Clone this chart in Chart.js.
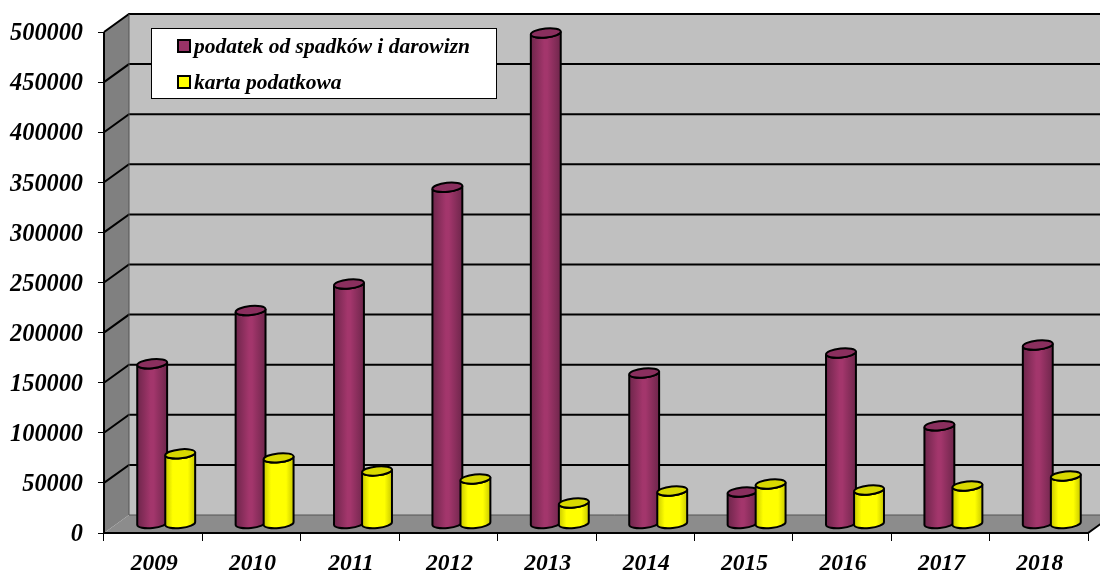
<!DOCTYPE html>
<html>
<head>
<meta charset="utf-8">
<style>
html, body { margin: 0; padding: 0; background: #fff; }
canvas { display: block; }
</style>
<script src="https://cdn.jsdelivr.net/npm/chart.js@4"></script>
</head>
<body>
<canvas id="taxchart" width="1100" height="572"></canvas>
<script>
var years = ['2009', '2010', '2011', '2012', '2013', '2014', '2015', '2016', '2017', '2018'];
var inheritanceTax = [160000, 213000, 239500, 336000, 490000, 150700, 32000, 170700, 98000, 178600];
var flatTax = [70000, 66000, 53000, 45000, 21000, 33000, 40000, 34000, 38000, 48000];
var inheritanceLabel = 'podatek od spadków i darowizn';
var flatLabel = 'karta podatkowa';

var depthX = 25, depthY = 18;
var fontFamily = '"Liberation Serif", serif';

// back wall, side wall, floor and the grid, all in 3D offset from the axes
var wallsPlugin = {
    id: 'walls',
    beforeDatasetsDraw: function(chart) {
        var c = chart.ctx, a = chart.chartArea, y = chart.scales.y;
        c.save();
        c.fillStyle = '#c0c0c0';
        c.fillRect(a.left + depthX, a.top - depthY, 1100, a.bottom - a.top);

        c.fillStyle = '#808080';
        c.beginPath();
        c.moveTo(a.left, a.top);
        c.lineTo(a.left + depthX, a.top - depthY);
        c.lineTo(a.left + depthX, a.bottom - depthY);
        c.lineTo(a.left, a.bottom);
        c.closePath();
        c.fill();

        c.fillStyle = '#8c8c8c';
        c.beginPath();
        c.moveTo(a.left, a.bottom);
        c.lineTo(a.left + depthX, a.bottom - depthY);
        c.lineTo(a.right + depthX, a.bottom - depthY);
        c.lineTo(a.right, a.bottom);
        c.closePath();
        c.fill();

        c.strokeStyle = '#000';
        c.lineWidth = 2;
        y.ticks.forEach(function(t) {
            if (t.value === 0) return;
            var py = y.getPixelForValue(t.value);
            c.beginPath();
            c.moveTo(a.left, py);
            c.lineTo(a.left + depthX, py - depthY);
            c.lineTo(1100, py - depthY);
            c.stroke();
        });
        c.lineWidth = 1;
        c.strokeStyle = '#555';
        c.beginPath();
        c.moveTo(a.left + depthX, a.top - depthY);
        c.lineTo(a.left + depthX, a.bottom - depthY);
        c.lineTo(1100, a.bottom - depthY);
        c.stroke();

        // front edge of the floor
        c.strokeStyle = '#000';
        c.lineWidth = 2;
        c.beginPath();
        c.moveTo(a.left, a.top);
        c.lineTo(a.left, a.bottom);
        c.lineTo(a.right, a.bottom);
        c.lineTo(a.right + depthX, a.bottom - depthY);
        c.stroke();
        c.restore();
    }
};

function cylinder(c, bar, dark, mid, top, edge) {
    var halfW = bar.width / 2 + 1;
    var cx = bar.x + 13;
    var yTop = bar.y - 9;
    var yBase = bar.base - 9;
    var ry = 4.5, tilt = -0.1;

    var g = c.createLinearGradient(cx - halfW, 0, cx + halfW, 0);
    g.addColorStop(0, dark);
    g.addColorStop(edge, mid);
    g.addColorStop(1 - edge, mid);
    g.addColorStop(1, dark);

    c.beginPath();
    c.ellipse(cx, yTop, halfW, ry, tilt, Math.PI, 0, true);
    c.ellipse(cx, yBase, halfW, ry, tilt, 0, Math.PI, false);
    c.closePath();
    c.fillStyle = g;
    c.fill();
    c.lineWidth = 2;
    c.strokeStyle = '#000';
    c.stroke();

    c.beginPath();
    c.ellipse(cx, yTop, halfW, ry, tilt, 0, Math.PI * 2);
    c.fillStyle = top;
    c.fill();
    c.stroke();
}

var cylindersPlugin = {
    id: 'cylinders',
    afterDatasetsDraw: function(chart) {
        var c = chart.ctx;
        c.save();
        chart.getDatasetMeta(0).data.forEach(function(bar) {
            cylinder(c, bar, '#6e264b', '#a3366c', '#8a2f5e', 0.45);
        });
        chart.getDatasetMeta(1).data.forEach(function(bar) {
            cylinder(c, bar, '#c8c800', '#ffff00', '#d9d900', 0.25);
        });
        c.restore();
    }
};

var legendPlugin = {
    id: 'boxLegend',
    afterDraw: function(chart) {
        var c = chart.ctx;
        c.save();
        c.fillStyle = '#fff';
        c.fillRect(151.5, 28.5, 345, 70);
        c.strokeStyle = '#000';
        c.lineWidth = 1;
        c.strokeRect(151.5, 28.5, 345, 70);

        c.lineWidth = 2;
        c.fillStyle = '#993366';
        c.fillRect(178, 40, 12, 12);
        c.strokeRect(178, 40, 12, 12);
        c.fillStyle = '#ffff00';
        c.fillRect(178, 76, 12, 12);
        c.strokeRect(178, 76, 12, 12);

        c.fillStyle = '#000';
        c.font = 'italic bold 21.5px ' + fontFamily;
        c.textBaseline = 'alphabetic';
        c.textAlign = 'left';
        c.fillText(chart.data.datasets[0].label, 194, 53);
        c.fillText(chart.data.datasets[1].label, 194, 89);
        c.restore();
    }
};

var ctx = document.getElementById('taxchart').getContext('2d');

var taxchart = new Chart(ctx, {
    type: 'bar',
    data: {
        labels: years,
        datasets: [
            {
                label: inheritanceLabel,
                data: inheritanceTax,
                backgroundColor: 'rgba(0,0,0,0)',
                categoryPercentage: 0.57,
                barPercentage: 1
            },
            {
                label: flatLabel,
                data: flatTax,
                backgroundColor: 'rgba(0,0,0,0)',
                categoryPercentage: 0.57,
                barPercentage: 1
            }
        ]
    },
    options: {
        responsive: false,
        animation: false,
        layout: { padding: { top: 32, right: 12, left: 0, bottom: 0 } },
        plugins: {
            legend: { display: false },
            tooltip: { enabled: false }
        },
        scales: {
            x: {
                afterFit: function(scale) { scale.height = 39; },
                grid: { drawOnChartArea: false, color: '#000', tickLength: 8, offset: true },
                border: { display: false },
                ticks: {
                    color: '#000',
                    padding: 9,
                    labelOffset: 1,
                    maxRotation: 0,
                    font: { family: fontFamily, size: 23.5, style: 'italic', weight: 'bold' }
                }
            },
            y: {
                min: 0,
                max: 500000,
                afterFit: function(scale) { scale.width = 104; },
                grid: { drawOnChartArea: false, color: '#000', tickLength: 6 },
                border: { display: false },
                ticks: {
                    color: '#000',
                    stepSize: 50000,
                    padding: 15,
                    labelOffset: 2,
                    callback: function(value) { return String(value); },
                    font: { family: fontFamily, size: 24.3, style: 'italic', weight: 'bold' }
                }
            }
        }
    },
    plugins: [wallsPlugin, cylindersPlugin, legendPlugin]
});
</script>
</body>
</html>
